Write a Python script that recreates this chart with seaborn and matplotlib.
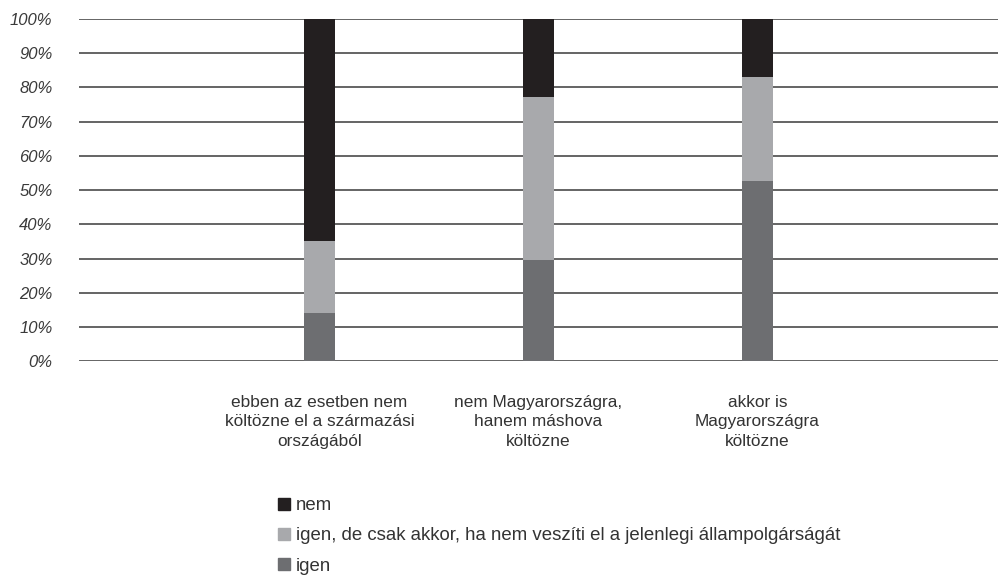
import matplotlib
matplotlib.use("Agg")
import matplotlib.pyplot as plt
from matplotlib.lines import Line2D
import numpy as np
import pandas as pd
import seaborn as sns

# data (percent of respondents)
categories = [
    "ebben az esetben nem\nköltözne el a származási\nországából",
    "nem Magyarországra,\nhanem máshova\nköltözne",
    "akkor is\nMagyarországra\nköltözne",
]
igen = [14.0, 29.5, 52.6]
igen_de = [21.2, 47.7, 30.4]
nem = [64.8, 22.8, 17.0]
series_labels = ["nem",
                 "igen, de csak akkor, ha nem veszíti el a jelenlegi állampolgárságát",
                 "igen"]
y_ticks = [0, 10, 20, 30, 40, 50, 60, 70, 80, 90, 100]

col_nem = "#231f20"
col_igen_de = "#a8a9ac"
col_igen = "#6d6e71"

sns.set_style("white")
plt.rcParams["font.family"] = ["Liberation Sans", "DejaVu Sans"]

df = pd.DataFrame({
    "cat": categories,
    "igen": igen,
    "igen_de": igen_de,
    "nem": nem,
})
df["top"] = df["igen"] + df["igen_de"] + df["nem"]
df["mid"] = df["igen"] + df["igen_de"]

fig = plt.figure(figsize=(9.98, 5.77), dpi=100)
ax = fig.add_axes([0.079, 0.374, 0.921, 0.593])

# stacked bars drawn back to front
sns.barplot(data=df, x="cat", y="top", color=col_nem, width=0.142, ax=ax,
            saturation=1, linewidth=0, zorder=3)
sns.barplot(data=df, x="cat", y="mid", color=col_igen_de, width=0.142, ax=ax,
            saturation=1, linewidth=0, zorder=3)
sns.barplot(data=df, x="cat", y="igen", color=col_igen, width=0.142, ax=ax,
            saturation=1, linewidth=0, zorder=3)

ax.set_xlim(-1.1, 3.1)
ax.set_ylim(0, 100)
ax.set_yticks(y_ticks)
ax.set_yticklabels([f"{t}%" for t in y_ticks], fontsize=12, style="italic",
                   color="#3a3a3a")
ax.tick_params(axis="y", length=0, pad=19)
ax.tick_params(axis="x", length=0, pad=24)
for lab in ax.get_xticklabels():
    lab.set_fontsize(12.4)
    lab.set_color("#333333")
    lab.set_linespacing(1.38)
    lab.set_multialignment("center")
ax.set_xlabel("")
ax.set_ylabel("")
ax.yaxis.grid(True, color="#4a4a4a", linewidth=1.2, zorder=1)
ax.set_axisbelow(True)
for s in ax.spines.values():
    s.set_visible(False)

handles = [Line2D([0], [0], marker="s", linestyle="", markersize=8,
                  markerfacecolor=c, markeredgecolor=c)
           for c in [col_nem, col_igen_de, col_igen]]
fig.legend(handles, series_labels, loc="upper left",
           bbox_to_anchor=(0.2786, 0.1386), frameon=False, fontsize=13.4,
           handlelength=0.65, handletextpad=0.32, labelspacing=0.71,
           borderpad=0, borderaxespad=0, labelcolor="#333333")

plt.savefig("out.png", dpi=100)
